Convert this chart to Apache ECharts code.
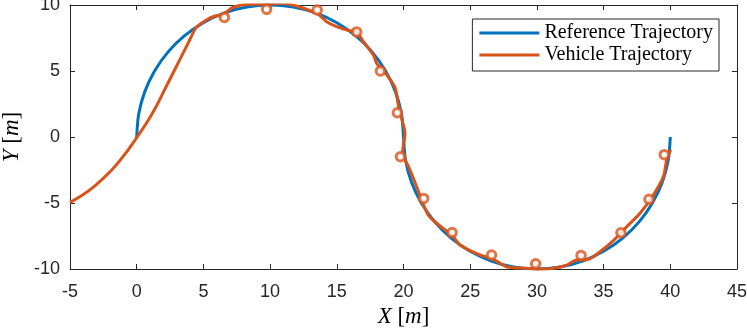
<!DOCTYPE html>
<html>
<head>
<meta charset="utf-8">
<script src="https://cdn.jsdelivr.net/npm/echarts@6/dist/echarts.min.js"></script>
<style>
html,body{margin:0;padding:0;background:#fff;}
#chart{width:747px;height:331px;}
</style>
</head>
<body>
<div id="chart"></div>
<script>
// Reference trajectory (two semicircles)
const refX = [0,0.15,0.60,1.34,2.34,3.57,5.00,6.58,8.26,10,11.74,13.42,15.00,16.43,17.66,18.66,19.40,19.85,20,
  20.15,20.60,21.34,22.34,23.57,25.00,26.58,28.26,30,31.74,33.42,35.00,36.43,37.66,38.66,39.40,39.85,40];
const refY = [0,1.74,3.42,5.00,6.43,7.66,8.66,9.40,9.85,10,9.85,9.40,8.66,7.66,6.43,5.00,3.42,1.74,0,
  -1.74,-3.42,-5.00,-6.43,-7.66,-8.66,-9.40,-9.85,-10,-9.85,-9.40,-8.66,-7.66,-6.43,-5.00,-3.42,-1.74,0];

// Vehicle trajectory
const vehX = [-5,-4,-3.13,-1.87,-0.88,0,0.7,1.4,2.1,2.8,3.4,3.9,4.47,5.2,5.87,6.4,7.24,8.49,9.74,10.87,11.99,13.0,13.6,
  14.24,14.99,15.74,16.49,16.99,17.74,17.99,18.74,19.36,19.6,19.86,20.11,19.94,20.49,20.99,21.36,21.86,22.74,23.61,
  24.24,25.6,26.8,27.73,28.23,29.23,30.23,31.23,32.23,32.98,33.73,34.73,35.73,36.73,37.73,38.73,39.48,39.73,40.03];
const vehY = [-4.95,-4.35,-3.7,-2.5,-1.3,-0.05,1.0,2.2,3.6,5.0,6.2,7.2,8.3,8.85,9.17,9.25,9.83,10.05,10.05,10.13,9.92,9.57,9.3,
  8.74,8.36,8.11,7.93,7.22,6.21,5.58,4.7,3.76,2.5,1.41,0.28,-1.11,-2.5,-3.77,-4.77,-5.91,-6.75,-7.42,
  -8.18,-8.88,-9.3,-9.83,-9.9,-9.95,-10.02,-9.95,-9.7,-9.32,-9.3,-8.69,-7.85,-6.8,-5.78,-4.39,-3.0,-1.74,-0.98];

// Sample markers on vehicle trajectory
const markX = [6.57,9.74,13.53,16.49,18.27,19.54,19.77,21.51,23.64,26.6,29.91,33.31,36.3,38.4,39.55];
const markY = [9.06,9.67,9.62,7.96,5.0,1.84,-1.49,-4.65,-7.24,-8.94,-9.6,-8.97,-7.25,-4.72,-1.34];

const xRange = [-5, 45, 5];
const yRange = [-10, 10, 5];
const seriesNames = ['Reference Trajectory', 'Vehicle Trajectory'];

const zip = (a, b) => a.map((v, i) => [v, b[i]]);
const axisColor = '#262626';
const tickFont = 'Liberation Sans, Arial, sans-serif';
const serif = 'Liberation Serif, Times New Roman, serif';

function mkX(pos, showLabels) {
  return {
    type: 'value', position: pos, min: xRange[0], max: xRange[1], interval: xRange[2],
    axisLine: { show: true, onZero: false, lineStyle: { color: axisColor, width: 1 } },
    axisTick: { show: true, inside: true, length: 5, lineStyle: { color: axisColor } },
    axisLabel: { show: showLabels, fontSize: 18, color: axisColor, margin: 14, fontFamily: tickFont },
    splitLine: { show: false }
  };
}
function mkY(pos, showLabels) {
  return {
    type: 'value', position: pos, min: yRange[0], max: yRange[1], interval: yRange[2],
    axisLine: { show: true, onZero: false, lineStyle: { color: axisColor, width: 1 } },
    axisTick: { show: true, inside: true, length: 5, lineStyle: { color: axisColor } },
    axisLabel: { show: showLabels, fontSize: 18, color: axisColor, margin: 10, fontFamily: tickFont },
    splitLine: { show: false }
  };
}

const xBottom = mkX('bottom', true);
xBottom.name = '{i|X} [{i|m}]';
xBottom.nameLocation = 'middle';
xBottom.nameGap = 35;
xBottom.nameTextStyle = { fontFamily: serif, fontSize: 23, color: '#000',
  rich: { i: { fontStyle: 'italic', fontFamily: serif, fontSize: 23, color: '#000' } } };
const yLeft = mkY('left', true);
yLeft.name = '{i|Y} [{i|m}]';
yLeft.nameLocation = 'middle';
yLeft.nameRotate = 90;
yLeft.nameGap = 47;
yLeft.nameTextStyle = { fontFamily: serif, fontSize: 23, color: '#000',
  rich: { i: { fontStyle: 'italic', fontFamily: serif, fontSize: 23, color: '#000' } } };

const chart = echarts.init(document.getElementById('chart'), null, { renderer: 'canvas' });
chart.setOption({
  animation: false,
  backgroundColor: '#fff',
  grid: { left: 70, right: 10, top: 5, bottom: 62, containLabel: false, outerBoundsMode: 'none' },
  xAxis: [xBottom, mkX('top', false)],
  yAxis: [yLeft, mkY('right', false)],
  legend: {
    right: 28, top: 19, orient: 'vertical',
    data: [{ name: seriesNames[0], icon: 'rect' }, { name: seriesNames[1], icon: 'rect' }],
    itemWidth: 60, itemHeight: 3, itemGap: 2,
    padding: [4, 6, 6, 7],
    backgroundColor: '#fff', borderColor: axisColor, borderWidth: 1,
    textStyle: { fontFamily: serif, fontSize: 20, color: '#000', lineHeight: 20 }
  },
  series: [
    {
      name: seriesNames[0], type: 'line', data: zip(refX, refY), smooth: 0.3,
      showSymbol: false, symbol: 'none',
      lineStyle: { color: '#0072BD', width: 3 }, itemStyle: { color: '#0072BD' }, z: 2
    },
    {
      name: seriesNames[1], type: 'line', data: zip(vehX, vehY), smooth: 0.3,
      showSymbol: false, symbol: 'none',
      lineStyle: { color: '#D95319', width: 3 }, itemStyle: { color: '#D95319' }, z: 3
    },
    {
      name: 'markers', type: 'scatter', data: zip(markX, markY), symbol: 'circle', symbolSize: 8.5,
      itemStyle: { color: '#fff', borderColor: '#D95319', borderWidth: 3 }, z: 4
    }
  ]
});
</script>
</body>
</html>
